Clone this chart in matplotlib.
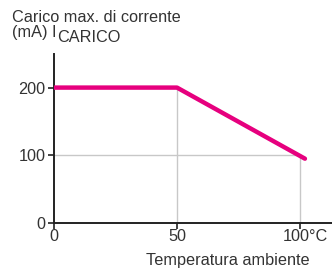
import matplotlib
matplotlib.use("Agg")
import matplotlib.pyplot as plt
import matplotlib.transforms as mtrans

# derating curve: max load current vs ambient temperature
temp = [0, 50, 102]
current = [200, 200, 95]
xticks = [0, 50, 100]
xticklabels = ["0", "50", "100°C"]
yticks = [0, 100, 200]

plt.rcParams.update({"font.family": ["Liberation Sans", "DejaVu Sans"], "font.size": 10})
TXT = "#333333"
FS = 11.7

fig = plt.figure(figsize=(3.32, 2.73), dpi=100)
ax = fig.add_axes([54 / 332, 50 / 273, 278 / 332, 174 / 273])
ax.set_xlim(0, 113)
ax.set_ylim(0, 257)

# grid segments bounded by the curve
ax.plot([50, 50], [0, 200], color="#c8c8c8", lw=1, zorder=1)
ax.plot([100, 100], [0, 100], color="#c8c8c8", lw=1, zorder=1)
ax.plot([0, 100], [100, 100], color="#c8c8c8", lw=1, zorder=1)

ax.plot(temp, current, color="#e6007e", lw=3.2, solid_capstyle="round",
        solid_joinstyle="round", zorder=3)

for s in ("top", "right"):
    ax.spines[s].set_visible(False)
ax.spines["left"].set_bounds(0, 250)
for s in ("left", "bottom"):
    ax.spines[s].set_color("#222222")
    ax.spines[s].set_linewidth(1.4)

ax.set_yticks(yticks)
ax.set_yticklabels([str(v) for v in yticks], color=TXT, fontsize=FS)
ax.set_xticks(xticks)
ax.set_xticklabels(xticklabels, color=TXT, fontsize=FS)
ax.tick_params(axis="x", length=4, width=1.2, colors="#222222", labelcolor=TXT, pad=0)
ax.tick_params(axis="y", length=4, width=1.2, colors="#222222", labelcolor=TXT, pad=2)

# shift the "100°C" label so that the number sits on its tick
lab = ax.get_xticklabels()[2]
lab.set_horizontalalignment("left")
lab.set_transform(lab.get_transform() + mtrans.ScaledTranslation(-17 / 100, 0, fig.dpi_scale_trans))

fig.text(12 / 332, 1 - 17 / 273, "Carico max. di corrente", color=TXT, fontsize=FS, va="center")
t1 = fig.text(12 / 332, 1 - 33 / 273, "(mA) I", color=TXT, fontsize=FS, va="center")

# subscript right after "(mA) I", a little lower
fig.canvas.draw()
bb = t1.get_window_extent()
fig.text((bb.x1 + 1) / fig.bbox.width, (bb.y0 + bb.y1) / 2 / fig.bbox.height - 4 / 273,
         "CARICO", color=TXT, fontsize=FS, va="center")

fig.text(310 / 332, 1 - 260 / 273, "Temperatura ambiente", color=TXT, fontsize=FS,
         ha="right", va="center")

fig.savefig("out.png", dpi=100)
